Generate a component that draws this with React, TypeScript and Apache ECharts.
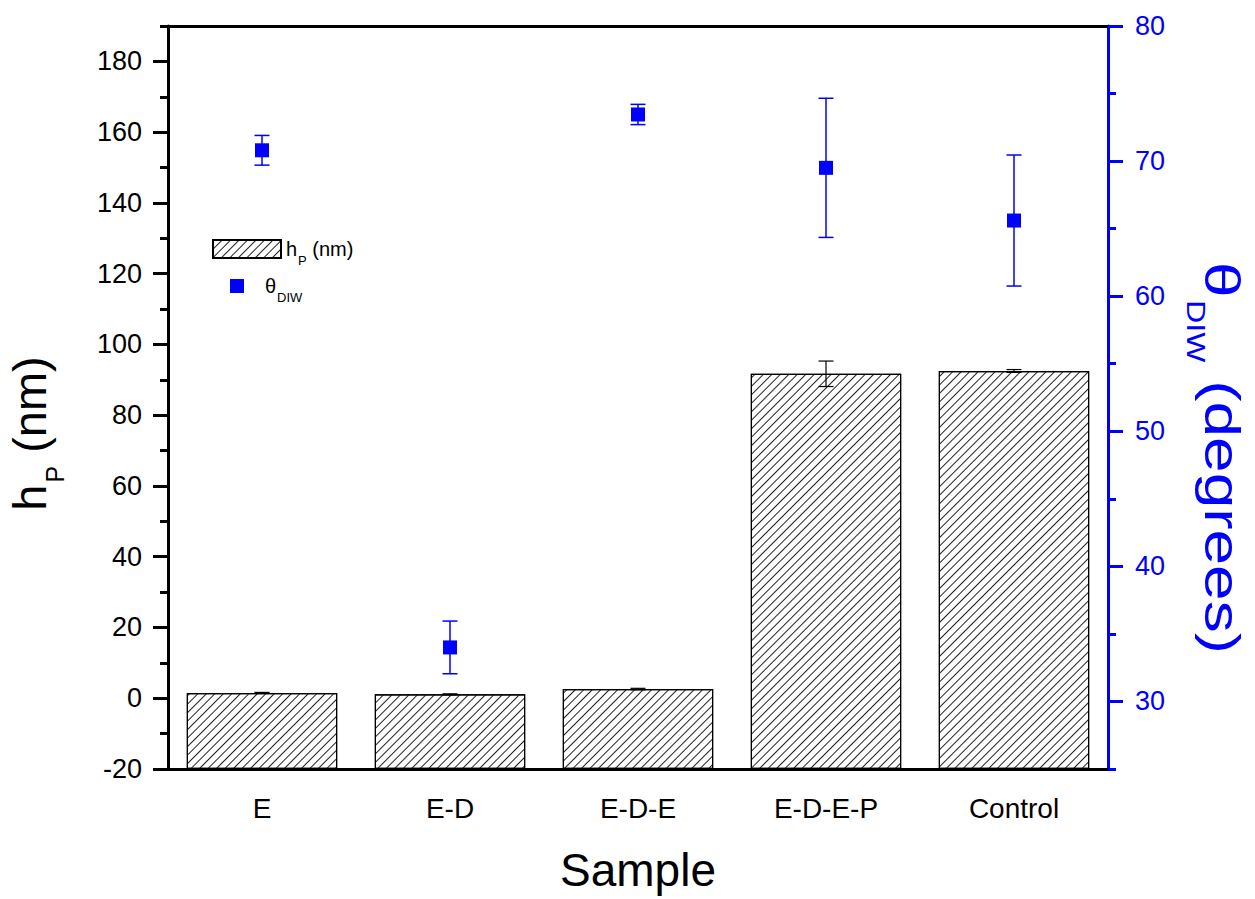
import React, { useEffect, useRef } from "react";
import * as echarts from "echarts";

const categories = ["E", "E-D", "E-D-E", "E-D-E-P", "Control"];
const hpValues = [1.5, 1.1, 2.6, 91.7, 92.5];
const hpErrors = [0.15, 0.15, 0.2, 3.6, 0.4];
const thetaValues = [70.8, 34.0, 73.45, 69.5, 65.6];
const thetaErrors = [1.1, 1.95, 0.75, 5.15, 4.85];

const leftMajorTicks = [-20, 0, 20, 40, 60, 80, 100, 120, 140, 160, 180];
const leftMinorTicks = [-10, 10, 30, 50, 70, 90, 110, 130, 150, 170, 190];
const rightMajorTicks = [30, 40, 50, 60, 70, 80];
const rightMinorTicks = [25, 35, 45, 55, 65, 75];

const FONT = "'Liberation Sans', Arial, sans-serif";
const BLUE = "#0000ff";
const BLACK = "#000000";

function errorRenderer(color: string, lineWidth: number, halfCap: number) {
  return (params: any, api: any) => {
    const x = api.value(0);
    const lo = api.value(1);
    const hi = api.value(2);
    const pLo = api.coord([x, lo]);
    const pHi = api.coord([x, hi]);
    const style = { stroke: color, lineWidth };
    return {
      type: "group",
      children: [
        { type: "line", shape: { x1: pHi[0], y1: pHi[1], x2: pLo[0], y2: pLo[1] }, style },
        { type: "line", shape: { x1: pHi[0] - halfCap, y1: pHi[1], x2: pHi[0] + halfCap, y2: pHi[1] }, style },
        { type: "line", shape: { x1: pLo[0] - halfCap, y1: pLo[1], x2: pLo[0] + halfCap, y2: pLo[1] }, style },
      ],
    };
  };
}

export default function App() {
  const ref = useRef<HTMLDivElement>(null);

  useEffect(() => {
    document.body.style.margin = "0";
    if (!ref.current) return;
    const chart = echarts.init(ref.current, null, { renderer: "svg" });

    const hpName = "hP (nm)";
    const thName = "θDIW";

    const xBase = {
      type: "category",
      data: categories,
      gridIndex: 0,
    };

    const option: any = {
      animation: false,
      textStyle: { fontFamily: FONT },
      grid: { left: 168, right: 147, top: 26, bottom: 130, containLabel: false, outerBoundsMode: "none" },
      legend: [
        {
          data: [{ name: hpName, icon: "rect" }],
          left: 212,
          top: 239,
          padding: 0,
          itemWidth: 68,
          itemHeight: 18,
          selectedMode: false,
          formatter: () => "{a|h}{s|P}{a| (nm)}",
          textStyle: {
            color: BLACK,
            fontFamily: FONT,
            rich: {
              a: { fontSize: 20, color: BLACK, fontFamily: FONT },
              s: { fontSize: 13, color: BLACK, fontFamily: FONT, padding: [23, 0, 0, 1] },
            },
          },
        },
        {
          data: [{ name: thName, icon: "rect" }],
          left: 230,
          top: 276,
          padding: 0,
          itemWidth: 14,
          itemHeight: 14,
          selectedMode: false,
          formatter: () => "{t|θ}{s|DIW}",
          textStyle: {
            color: BLACK,
            fontFamily: FONT,
            rich: {
              t: { fontSize: 20, color: BLACK, fontFamily: FONT, padding: [0, 0, 0, 16] },
              s: { fontSize: 13, color: BLACK, fontFamily: FONT, padding: [22, 0, 0, 1] },
            },
          },
        },
      ],
      graphic: [
        {
          type: "text",
          x: 1222,
          y: 458,
          rotation: -Math.PI / 2,
          scaleX: 1.28,
          scaleY: 1,
          silent: true,
          style: {
            text: "{a|θ}{s|DIW}{a| (degrees)}",
            align: "center",
            verticalAlign: "middle",
            fill: BLUE,
            fontFamily: FONT,
            rich: {
              a: { fontSize: 50, lineHeight: 50, fill: BLUE, fontFamily: FONT, verticalAlign: "top" },
              s: { fontSize: 25, lineHeight: 25, fill: BLUE, fontFamily: FONT, verticalAlign: "top", padding: [39, 0, 0, 2] },
            },
          },
        },
      ],
      xAxis: [
        {
          ...xBase,
          position: "bottom",
          axisLine: { onZero: false, lineStyle: { color: BLACK, width: 3 } },
          axisTick: { alignWithLabel: true, length: 16, lineStyle: { color: BLACK, width: 3 } },
          axisLabel: { interval: 0, fontSize: 28, color: BLACK, margin: 25, fontFamily: FONT },
          splitLine: { show: false },
          name: "Sample",
          nameLocation: "middle",
          nameGap: 78,
          nameMoveOverlap: false,
          nameTextStyle: { fontSize: 46, color: BLACK, fontFamily: FONT },
        },
        {
          ...xBase,
          position: "bottom",
          axisLine: { show: false, onZero: false },
          axisTick: { length: 8, lineStyle: { color: BLACK, width: 3 } },
          axisLabel: { show: false },
          splitLine: { show: false },
        },
        {
          ...xBase,
          position: "top",
          axisLine: { onZero: false, lineStyle: { color: BLACK, width: 3 } },
          axisTick: { inside: true, alignWithLabel: true, length: 15, lineStyle: { color: BLACK, width: 3 } },
          axisLabel: { show: false },
          splitLine: { show: false },
        },
        {
          ...xBase,
          position: "top",
          axisLine: { show: false, onZero: false },
          axisTick: { inside: true, length: 8, lineStyle: { color: BLACK, width: 3 } },
          axisLabel: { show: false },
          splitLine: { show: false },
        },
      ],
      yAxis: [
        {
          type: "value",
          position: "left",
          min: -20,
          max: 190,
          startValue: -20,
          axisLine: { show: true, onZero: false, lineStyle: { color: BLACK, width: 3 } },
          axisTick: { show: true, customValues: leftMajorTicks, length: 15, lineStyle: { color: BLACK, width: 3 } },
          axisLabel: { customValues: leftMajorTicks, fontSize: 27, color: BLACK, margin: 26, fontFamily: FONT },
          splitLine: { show: false },
          name: "{a|h}{s|P}{a| (nm)}",
          nameLocation: "middle",
          nameRotate: 90,
          nameGap: 101,
          nameMoveOverlap: false,
          nameTextStyle: {
            color: BLACK,
            fontFamily: FONT,
            padding: [0, 72, 0, 0],
            rich: {
              a: { fontSize: 47, color: BLACK, fontFamily: FONT },
              s: { fontSize: 25, color: BLACK, fontFamily: FONT, padding: [51, 0, 0, 2] },
            },
          },
        },
        {
          type: "value",
          position: "left",
          min: -20,
          max: 190,
          axisLine: { show: false, onZero: false },
          axisTick: { show: true, customValues: leftMinorTicks, length: 8, lineStyle: { color: BLACK, width: 3 } },
          axisLabel: { show: false },
          splitLine: { show: false },
        },
        {
          type: "value",
          position: "right",
          min: 25,
          max: 80,
          axisLine: { show: true, onZero: false, lineStyle: { color: BLUE, width: 3 } },
          axisTick: { show: true, customValues: rightMajorTicks, length: 15, lineStyle: { color: BLUE, width: 3 } },
          axisLabel: { customValues: rightMajorTicks, fontSize: 27, color: BLUE, margin: 27, fontFamily: FONT },
          splitLine: { show: false },
        },
        {
          type: "value",
          position: "right",
          min: 25,
          max: 80,
          axisLine: { show: false, onZero: false },
          axisTick: { show: true, customValues: rightMinorTicks, length: 8, lineStyle: { color: BLUE, width: 3 } },
          axisLabel: { show: false },
          splitLine: { show: false },
        },
      ],
      series: [
        {
          name: hpName,
          type: "bar",
          xAxisIndex: 0,
          yAxisIndex: 0,
          data: hpValues,
          barWidth: "80%",
          itemStyle: {
            color: "#ffffff",
            borderColor: BLACK,
            borderWidth: 1.2,
            decal: {
              symbol: "rect",
              symbolSize: 1,
              color: "#222222",
              backgroundColor: "#ffffff",
              dashArrayX: [1, 0],
              dashArrayY: [1, 5],
              rotation: -Math.PI / 4,
            },
          },
          z: 2,
        },
        {
          name: "hpError",
          type: "custom",
          xAxisIndex: 0,
          yAxisIndex: 0,
          data: hpValues.map((v, i) => [i, v - hpErrors[i], v + hpErrors[i]]),
          encode: { x: 0, y: [1, 2] },
          renderItem: errorRenderer(BLACK, 1.2, 7.5),
          z: 3,
        },
        {
          name: "thetaError",
          type: "custom",
          xAxisIndex: 0,
          yAxisIndex: 2,
          data: thetaValues.map((v, i) => [i, v - thetaErrors[i], v + thetaErrors[i]]),
          encode: { x: 0, y: [1, 2] },
          renderItem: errorRenderer(BLUE, 1.5, 7.5),
          z: 4,
        },
        {
          name: thName,
          type: "scatter",
          xAxisIndex: 0,
          yAxisIndex: 2,
          data: thetaValues,
          symbol: "rect",
          symbolSize: 14,
          itemStyle: { color: BLUE, opacity: 1 },
          z: 5,
        },
      ],
    };

    chart.setOption(option);
    return () => {
      chart.dispose();
    };
  }, []);

  return (
    <div
      ref={ref}
      style={{ position: "fixed", left: 0, top: 0, width: 1255, height: 899, background: "#ffffff" }}
    />
  );
}
